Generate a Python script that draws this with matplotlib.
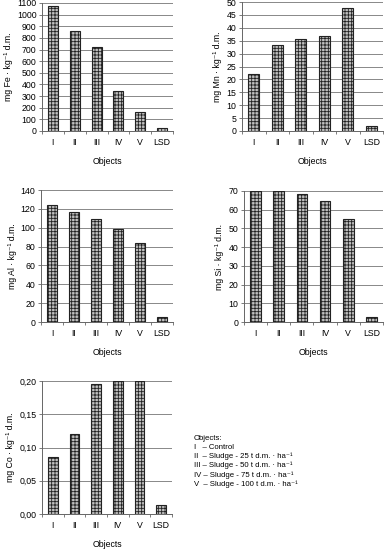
import numpy as np
import matplotlib
matplotlib.use('Agg')
import matplotlib.pyplot as plt
from matplotlib.ticker import FuncFormatter

plt.rcParams['font.family'] = ['Liberation Sans', 'DejaVu Sans']
plt.rcParams['hatch.linewidth'] = 0.6

# --- data ---
objects = ['I', 'II', 'III', 'IV', 'V', 'LSD']
fe = [1070, 860, 725, 345, 160, 30]
mn = [22, 33.5, 35.5, 37, 47.5, 2]
al = [124, 117, 109, 99, 84, 5]
si = [70, 70, 68.5, 64.5, 55, 2.5]
co = [0.085, 0.12, 0.195, 0.20, 0.20, 0.013]

legend_lines = ['Objects:',
                'I   \u2013 Control',
                'II  \u2013 Sludge - 25 t d.m. \u00b7 ha\u207b\u00b9',
                'III \u2013 Sludge - 50 t d.m. \u00b7 ha\u207b\u00b9',
                'IV \u2013 Sludge - 75 t d.m. \u00b7 ha\u207b\u00b9',
                'V  \u2013 Sludge - 100 t d.m. \u00b7 ha\u207b\u00b9']

W, H = 387, 549
fig = plt.figure(figsize=(W / 100, H / 100), dpi=100)
FS = 6.3


def panel(l, r, t, b, values, ymax, step, ylabel, fmt=None):
    ax = fig.add_axes([l / W, 1 - b / H, (r - l) / W, (b - t) / H])
    x = np.arange(len(objects))
    ax.bar(x, values, width=0.46, facecolor='#c0c0c0', edgecolor='#222222',
           hatch='+++++', linewidth=0.8, zorder=3)
    ax.set_xlim(-0.5, len(objects) - 0.5)
    ax.set_ylim(0, ymax)
    ax.set_yticks(np.arange(0, ymax + step / 2, step))
    if fmt:
        ax.yaxis.set_major_formatter(FuncFormatter(fmt))
    ax.set_xticks(x)
    ax.set_xticklabels(objects)
    ax.set_xticks(np.arange(-0.5, len(objects), 1), minor=True)
    ax.tick_params(axis='x', which='major', length=0, labelsize=FS, pad=5)
    ax.tick_params(axis='x', which='minor', length=2, width=0.6, color='#666666')
    ax.tick_params(axis='y', length=2, width=0.6, labelsize=FS, pad=2, color='#666666')
    ax.grid(axis='y', color='#888888', linewidth=0.7, zorder=0)
    for s in ['top', 'right']:
        ax.spines[s].set_visible(False)
    ax.spines['left'].set_color('#666666')
    ax.spines['bottom'].set_color('#666666')
    ax.spines['left'].set_linewidth(0.7)
    ax.spines['bottom'].set_linewidth(0.7)
    ax.set_xlabel('Objects', fontsize=FS, labelpad=7)
    ax.set_ylabel(ylabel, fontsize=FS, labelpad=3)
    return ax


panel(42, 173, 3, 131, fe, 1100, 100, 'mg Fe \u00b7 kg\u207b\u00b9 d.m.')
panel(242, 383, 2, 131, mn, 50, 5, 'mg Mn \u00b7 kg\u207b\u00b9 d.m.')
panel(41, 173, 190, 322, al, 140, 20, 'mg Al \u00b7 kg\u207b\u00b9 d.m.')
panel(244, 383, 191, 322, si, 70, 10, 'mg Si \u00b7 kg\u207b\u00b9 d.m.')
panel(42, 172, 381, 514, co, 0.20, 0.05, 'mg Co \u00b7 kg\u207b\u00b9 d.m.',
      fmt=lambda v, p: f'{v:.2f}'.replace('.', ','))

y0 = 438
for i, line in enumerate(legend_lines):
    fig.text(194 / W, 1 - (y0 + i * 9.2) / H, line, fontsize=5.6, va='center', ha='left')

fig.savefig('out.png', dpi=100, facecolor='white')
